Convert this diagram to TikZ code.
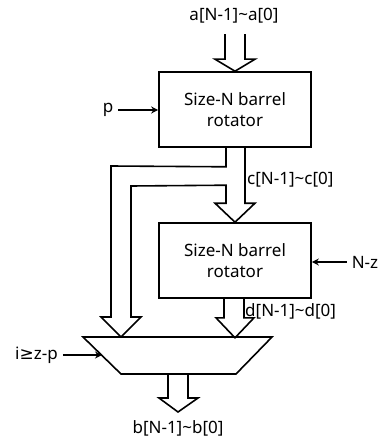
\documentclass[tikz,border=0pt]{standalone}
\usepackage{fontspec}
\setmainfont{Noto Sans}
\newfontfamily\symfont{DejaVu Sans}
\usepackage{tikz}
\usetikzlibrary{positioning,
                calc,
                arrows.meta}

\begin{document}
\begin{tikzpicture}[x=1pt,y=-1pt]

%--------------------------------------------------
% STYLES
%--------------------------------------------------

\tikzset{
rotbox/.style={
draw=black,
line width=1.6pt,
minimum width=152pt,
minimum height=75pt,
align=center,
font=\fontsize{17}{21}\selectfont,
inner sep=0pt
},
sig/.style={
font=\fontsize{17}{20}\selectfont,
inner sep=0pt
},
fatline/.style={
draw=black,
line width=1.6pt,
line join=miter
},
ctrl/.style={
line width=1.6pt,
-{Stealth[length=7pt,width=7pt]}
}
}

\useasboundingbox (0,0) rectangle (387,441);

%--------------------------------------------------
% ROTATORS AND MUX
%--------------------------------------------------

\node[rotbox] (rotA) at (235,109.5)
{Size-N barrel\\rotator};

\node[rotbox] (rotB) at (235,260.5)
{Size-N barrel\\rotator};

\coordinate (muxTL) at (83,337);
\coordinate (muxTR) at (272,337);
\coordinate (muxBR) at (236,374);
\coordinate (muxBL) at (121,374);
\draw[fatline] (muxTL)--(muxTR)--(muxBR)--(muxBL)--cycle;
\coordinate (muxS) at (178,374);
\coordinate (muxIn) at (102,355);

%--------------------------------------------------
% LABELS
%--------------------------------------------------

\node[sig] (aIn) at (234,16) {a[N-1]\textasciitilde a[0]};
\node[sig,anchor=west] (cLab) at (247,180) {c[N-1]\textasciitilde c[0]};
\node[sig,anchor=west] (dLab) at (245,311) {d[N-1]\textasciitilde d[0]};
\node[sig] (bOut) at (178,428) {b[N-1]\textasciitilde b[0]};
\node[sig] (pIn) at (108,110) {p};
\node[sig] (nzIn) at (365,262) {N-z};
\node[sig,anchor=west] (selIn) at (15,355) {i{\symfont≥}z-p};

%--------------------------------------------------
% FAT ARROWS
%--------------------------------------------------

% a -> first rotator
\draw[fatline] ($(rotA.north)+(-10,-37)$)--($(rotA.north)+(-10,-12)$)
--($(rotA.north)+(-20,-12)$)--(rotA.north)--($(rotA.north)+(20,-12)$)
--($(rotA.north)+(10,-12)$)--($(rotA.north)+(10,-37)$);

% c -> second rotator, with bypass to the mux
\draw[fatline] ($(rotA.south)+(-9,0)$)--($(rotA.south)+(-9,19)$)
--(111,166)--(111,317)--(101,317)--(121,337)--(141,317)--(131,317)
--(131,186)--($(rotB.north)+(-9,-37)$)--($(rotB.north)+(-9,-19)$)
--($(rotB.north)+(-20,-19)$)--(rotB.north)--($(rotB.north)+(20,-19)$)
--($(rotB.north)+(10,-19)$)--($(rotA.south)+(10,0)$);

% d -> mux
\draw[fatline] ($(rotB.south)+(-11,0)$)--($(rotB.south)+(-11,19)$)
--($(rotB.south)+(-19,19)$)--($(rotB.south)+(0,39)$)--($(rotB.south)+(19,19)$)
--($(rotB.south)+(9,19)$)--($(rotB.south)+(9,0)$);

% mux -> b
\draw[fatline] ($(muxS)+(-10,0)$)--($(muxS)+(-10,24)$)
--($(muxS)+(-19,24)$)--($(muxS)+(0,38)$)--($(muxS)+(20,24)$)
--($(muxS)+(10,24)$)--($(muxS)+(10,0)$);

%--------------------------------------------------
% CONTROL INPUTS
%--------------------------------------------------

\draw[ctrl] (pIn.east)++(5,0)--(rotA.west |- pIn.east);
\draw[ctrl] (nzIn.west)++(-5,0)--(rotB.east |- nzIn.west);
\draw[ctrl] (selIn.east)++(5,0)--(muxIn);

\end{tikzpicture}
\end{document}
